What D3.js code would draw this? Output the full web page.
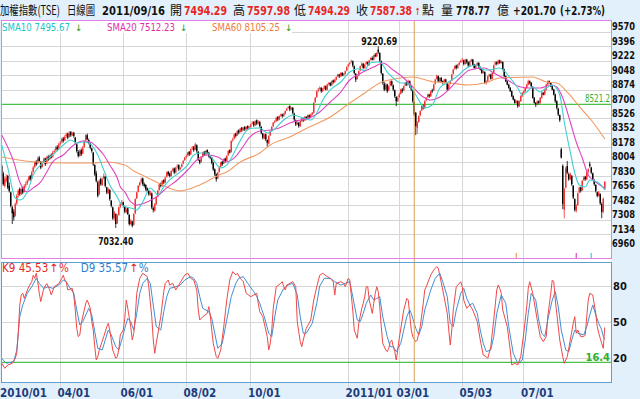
<!DOCTYPE html>
<html>
<head>
<meta charset="utf-8">
<script src="https://cdn.jsdelivr.net/npm/d3@7/dist/d3.min.js"></script>
<style>
  body { margin: 0; background: #e2f0fb; }
  svg { display: block; }
  text { font-family: "Liberation Sans Narrow", "DejaVu Sans Condensed", "Liberation Sans", sans-serif; }
  .cjk { font-family: "Noto Sans CJK TC", "Noto Sans CJK SC", sans-serif; }
  .arrow { font-family: "DejaVu Sans", sans-serif; }
</style>
</head>
<body>
<div id="chart"></div>
<script>
// ---- data : TAIEX daily, 2010/01/26 .. 2011/09/16 (index = trading day) ----
var opens = [7780,7690,7540,7600,7660,7540,7460,7280,7230,7180,7330,7430,7500,7440,7520,7470,7550,7570,7610,7660,
7630,7710,7770,7830,7810,7880,7830,7770,7830,7870,7810,7890,7860,7910,7890,7950,7970,8010,7990,8050,
8070,8110,8090,8140,8170,8130,8190,8150,8180,8120,8040,7950,7900,7970,7930,8010,8090,8150,8090,8050,
7990,7940,7790,7690,7580,7440,7620,7550,7630,7650,7520,7450,7490,7360,7280,7150,7200,7090,7190,7290,
7330,7340,7290,7220,7270,7190,7080,7110,7070,7210,7390,7470,7550,7590,7630,7560,7550,7510,7480,7430,
7450,7270,7240,7320,7410,7490,7570,7540,7610,7580,7650,7710,7690,7660,7730,7750,7700,7770,7790,7740,
7770,7810,7850,7890,7910,7950,7920,7990,8010,7980,8030,7950,7850,7830,7890,7950,7920,7970,7940,7900,
7880,7820,7740,7680,7630,7710,7770,7830,7810,7870,7840,7910,7970,7950,8090,8110,8170,8150,8210,8190,
8240,8210,8250,8220,8260,8230,8250,8290,8310,8270,8330,8290,8310,8250,8170,8110,8160,8090,8050,8150,
8210,8260,8310,8320,8370,8340,8390,8400,8380,8410,8450,8480,8500,8460,8480,8410,8330,8280,8300,8260,
8320,8350,8330,8370,8350,8390,8370,8400,8420,8550,8610,8690,8710,8720,8680,8710,8740,8700,8770,8780,
8750,8810,8790,8820,8860,8880,8860,8900,8870,8890,8930,8980,9010,9030,9040,8980,8890,8830,8870,8930,
8990,9010,8960,9010,9030,9000,9060,9080,9060,9120,9100,9180,9140,9040,8890,8770,8700,8760,8690,8750,
8800,8750,8690,8610,8560,8610,8650,8700,8690,8750,8790,8760,8800,8740,8690,8550,8420,8240,8310,8390,
8450,8500,8480,8570,8610,8640,8620,8690,8690,8770,8830,8860,8800,8840,8800,8780,8820,8780,8700,8770,
8810,8890,8950,8990,8960,9000,9030,9050,9050,9010,9060,9030,8990,9040,9060,9000,8960,8990,9020,8970,
8940,8900,8910,8780,8800,8860,8880,8830,8900,9000,9030,9010,9050,9020,9030,8940,8860,8800,8760,8720,
8680,8620,8580,8540,8560,8500,8560,8620,8660,8680,8720,8760,8800,8780,8730,8600,8540,8520,8560,8540,
8600,8660,8640,8700,8760,8800,8780,8740,8700,8640,8560,8470,8390,7980,7780,7250,7520,7780,7680,7620,
7660,7540,7380,7240,7310,7460,7520,7490,7610,7650,7620,7710,7800,7760,7690,7610,7550,7460,7420,7440,
7320,7230,7494.29];
var highs = [7800,7710,7650,7680,7670,7580,7470,7300,7260,7340,7440,7500,7520,7520,7530,7560,7590,7620,7660,7670,
7720,7780,7840,7850,7890,7900,7840,7840,7880,7880,7900,7910,7920,7930,7960,7980,8020,8030,8060,8080,
8120,8130,8150,8180,8180,8200,8200,8190,8190,8130,8050,7970,7980,7990,8020,8090,8160,8170,8110,8060,
8000,7950,7800,7720,7600,7620,7640,7640,7690,7660,7530,7520,7500,7370,7290,7240,7210,7200,7290,7340,
7370,7350,7300,7280,7280,7200,7140,7120,7210,7390,7470,7550,7590,7640,7640,7580,7560,7520,7490,7480,
7460,7290,7330,7410,7490,7570,7580,7610,7620,7650,7710,7720,7700,7730,7760,7760,7770,7800,7800,7770,
7810,7850,7890,7920,7950,7960,7990,8020,8020,8060,8040,7960,7860,7890,7950,7960,7970,7980,7950,7910,
7890,7830,7750,7690,7710,7780,7830,7840,7870,7880,7910,7970,7980,8090,8120,8170,8180,8210,8220,8240,
8250,8250,8260,8260,8270,8260,8290,8320,8320,8330,8340,8330,8320,8260,8180,8170,8170,8100,8150,8210,
8260,8310,8330,8370,8380,8390,8410,8410,8420,8450,8480,8500,8510,8490,8490,8420,8340,8320,8310,8330,
8360,8360,8380,8380,8400,8400,8410,8430,8550,8610,8690,8720,8740,8730,8720,8750,8750,8770,8790,8790,
8810,8820,8830,8860,8890,8890,8910,8910,8900,8930,8980,9010,9030,9060,9050,8990,8900,8870,8930,8990,
9030,9020,9010,9040,9040,9060,9090,9100,9120,9140,9150,9220.69,9150,9050,8900,8790,8780,8770,8750,8810,
8810,8760,8700,8620,8620,8660,8710,8720,8750,8790,8800,8820,8810,8750,8700,8560,8430,8320,8390,8450,
8510,8520,8570,8610,8650,8650,8690,8710,8770,8830,8880,8870,8850,8850,8810,8830,8830,8790,8770,8810,
8890,8950,8990,9000,9010,9040,9060,9080,9060,9070,9070,9040,9050,9070,9070,9010,9000,9030,9030,8980,
8950,8930,8920,8810,8870,8890,8890,8910,9000,9040,9040,9060,9060,9050,9040,8950,8870,8810,8770,8730,
8690,8630,8590,8570,8570,8570,8630,8670,8690,8730,8770,8820,8810,8790,8740,8610,8550,8570,8570,8610,
8670,8670,8710,8770,8810,8810,8790,8750,8710,8650,8570,8480,8400,8000,7800,7520,7770,7840,7700,7700,
7670,7550,7390,7320,7460,7530,7530,7610,7660,7660,7710,7750,7830,7770,7700,7620,7560,7470,7480,7450,
7340,7400,7597.98];
var lows = [7660,7540,7520,7580,7500,7460,7280,7080,7120,7170,7310,7400,7420,7430,7440,7460,7520,7550,7590,7600,
7620,7700,7750,7780,7800,7830,7740,7760,7810,7780,7800,7840,7850,7870,7880,7930,7950,7960,7980,8030,
8050,8060,8080,8120,8100,8120,8130,8140,8120,8040,7940,7880,7890,7900,7920,8000,8080,8090,8040,7980,
7940,7780,7660,7580,7400,7430,7540,7540,7620,7520,7440,7440,7360,7280,7130,7120,7032.4,7080,7180,7270,
7310,7280,7210,7210,7190,7060,7070,7040,7060,7200,7380,7460,7530,7570,7540,7520,7480,7460,7420,7420,
7260,7220,7230,7310,7400,7480,7520,7530,7560,7570,7640,7660,7640,7650,7710,7680,7690,7750,7720,7730,
7760,7800,7840,7870,7890,7900,7910,7970,7950,7970,7940,7840,7800,7820,7880,7900,7910,7920,7880,7860,
7800,7720,7660,7590,7620,7700,7760,7780,7800,7820,7830,7900,7930,7940,8070,8100,8120,8140,8160,8180,
8190,8200,8200,8210,8210,8220,8240,8280,8250,8260,8270,8280,8240,8160,8100,8100,8080,8010,8040,8140,
8200,8250,8290,8310,8320,8330,8370,8360,8370,8400,8440,8470,8440,8450,8400,8320,8260,8270,8240,8250,
8310,8310,8320,8330,8340,8350,8360,8390,8410,8540,8600,8670,8690,8660,8670,8700,8690,8690,8750,8740,
8740,8770,8780,8810,8850,8840,8850,8860,8860,8880,8920,8970,8990,9020,8970,8880,8790,8820,8860,8920,
8980,8950,8950,9000,8980,8990,9050,9050,9050,9090,9090,9130,9030,8880,8760,8680,8690,8660,8680,8740,
8740,8680,8600,8500,8550,8600,8640,8660,8680,8740,8740,8750,8720,8680,8540,8380,8150,8170,8300,8380,
8440,8460,8470,8560,8600,8600,8610,8660,8680,8760,8820,8790,8790,8790,8760,8770,8780,8680,8690,8760,
8800,8880,8940,8940,8950,8990,9020,9030,8990,9000,9010,8970,8980,9030,8990,8950,8950,8980,8960,8930,
8890,8890,8770,8760,8790,8850,8820,8820,8890,8990,8990,9000,9010,9010,8930,8850,8790,8750,8710,8670,
8610,8570,8530,8530,8480,8490,8550,8610,8650,8670,8710,8750,8760,8730,8590,8530,8490,8510,8520,8530,
8590,8630,8630,8690,8750,8770,8730,8690,8630,8540,8460,8380,8310,7870,7260,7148,7510,7680,7600,7610,
7540,7380,7230,7220,7300,7450,7460,7480,7600,7600,7610,7690,7760,7680,7600,7540,7460,7400,7410,7310,
7150,7210,7494.29];
var closes = [7700,7560,7620,7640,7520,7480,7300,7210,7160,7320,7420,7480,7440,7500,7460,7540,7560,7600,7640,7620,
7700,7760,7820,7800,7870,7840,7760,7820,7860,7800,7880,7860,7900,7880,7940,7960,8000,7980,8040,8060,
8100,8080,8130,8160,8120,8180,8150,8170,8140,8060,7960,7900,7960,7920,8000,8080,8150,8100,8060,8000,
7960,7800,7680,7600,7420,7600,7560,7620,7660,7540,7460,7500,7380,7300,7150,7220,7080,7180,7280,7320,
7340,7300,7230,7260,7200,7080,7120,7060,7200,7380,7460,7540,7580,7620,7560,7540,7500,7480,7440,7460,
7280,7250,7320,7400,7480,7560,7540,7600,7580,7640,7700,7680,7660,7720,7740,7700,7760,7780,7740,7760,
7800,7840,7880,7900,7940,7920,7980,8000,7970,8040,7960,7860,7820,7880,7940,7920,7960,7940,7900,7880,
7820,7740,7680,7620,7700,7760,7820,7800,7860,7840,7900,7960,7940,8080,8100,8160,8140,8200,8180,8230,
8210,8240,8220,8250,8230,8240,8280,8300,8270,8320,8290,8310,8260,8180,8120,8160,8100,8060,8140,8200,
8250,8300,8320,8360,8340,8380,8400,8380,8410,8440,8470,8490,8460,8480,8420,8340,8280,8300,8260,8320,
8350,8330,8370,8350,8390,8370,8400,8420,8540,8600,8680,8700,8720,8680,8710,8740,8700,8760,8780,8750,
8800,8790,8820,8850,8880,8860,8900,8870,8890,8920,8970,9000,9020,9040,8990,8900,8820,8860,8920,8980,
9010,8960,9000,9030,8990,9050,9080,9060,9110,9100,9140,9150,9050,8900,8780,8700,8760,8680,8740,8800,
8760,8700,8620,8560,8600,8640,8700,8680,8740,8780,8760,8800,8740,8700,8560,8400,8260,8300,8380,8440,
8500,8480,8560,8600,8640,8620,8680,8680,8760,8820,8860,8800,8840,8800,8780,8820,8790,8700,8760,8800,
8880,8940,8980,8960,9000,9020,9040,9050,9010,9060,9030,8990,9040,9060,9000,8960,8990,9020,8970,8940,
8900,8920,8780,8800,8860,8880,8830,8900,8990,9030,9010,9050,9020,9040,8940,8860,8800,8760,8720,8680,
8620,8580,8540,8560,8500,8560,8620,8660,8680,8720,8760,8800,8780,8740,8600,8540,8520,8560,8540,8600,
8660,8640,8700,8760,8800,8780,8740,8700,8640,8560,8480,8400,8330,7880,7320,7500,7750,7700,7620,7680,
7560,7400,7250,7300,7450,7520,7480,7600,7640,7620,7700,7740,7780,7700,7620,7560,7480,7420,7460,7330,
7225,7385.68,7587.38];

// moving averages as [trading day, value]
var sma10Pts = [[0,8032],[4,7760],[9,7394],[12,7370],[17,7467],[21,7671],[28,7828],[34,7912],[41,8032],[46,8093],
[50,8056],[54,8068],[58,8056],[64,7912],[68,7731],[72,7551],[77,7406],[79,7334],[82,7290],[86,7274],[90,7250],
[94,7346],[99,7515],[102,7467],[104,7430],[108,7527],[112,7611],[118,7695],[124,7792],[128,7912],[132,7936],
[137,7936],[141,7852],[146,7755],[150,7792],[154,7906],[158,8050],[162,8176],[165,8230],[172,8237],[177,8177],
[181,8213],[188,8333],[194,8394],[201,8357],[206,8333],[210,8418],[214,8574],[219,8695],[226,8791],[232,8911],
[238,8950],[242,8930],[245,9020],[252,9032],[257,8911],[261,8839],[266,8779],[270,8779],[274,8695],[278,8574],
[282,8478],[287,8514],[292,8719],[297,8779],[303,8851],[310,8959],[316,8996],[322,8935],[325,8935],[332,8959],
[339,8839],[344,8719],[347,8634],[350,8670],[354,8731],[359,8670],[363,8719],[367,8755],[372,8634],[375,8309],
[379,7948],[382,7695],[385,7551],[389,7527],[392,7611],[397,7587],[402,7495.67]];
var sma20Pts = [[0,8153],[8,7828],[12,7587],[17,7467],[21,7515],[26,7587],[30,7707],[34,7828],[41,7912],[48,8032],
[54,8081],[59,8068],[64,7996],[68,7912],[72,7792],[77,7635],[79,7530],[82,7467],[86,7346],[90,7310],[97,7346],
[103,7406],[110,7515],[117,7611],[124,7731],[130,7852],[137,7912],[144,7888],[150,7828],[155,7876],[160,7990],
[165,8120],[172,8200],[179,8213],[185,8237],[192,8297],[199,8333],[205,8357],[212,8430],[219,8550],[226,8670],
[232,8815],[239,8893],[248,8971],[254,9020],[261,8935],[268,8839],[274,8731],[281,8610],[286,8574],[292,8610],
[299,8719],[306,8851],[312,8935],[322,8959],[328,8899],[337,8815],[346,8731],[352,8719],[359,8719],[366,8755],
[370,8731],[374,8598],[379,8309],[383,8068],[387,7876],[391,7671],[396,7587],[402,7512.23]];
var sma60Pts = [[0,7888],[21,7831],[43,7816],[61,7816],[70,7828],[82,7792],[88,7720],[96,7650],[106,7560],[119,7479],
[132,7551],[145,7671],[150,7707],[159,7828],[172,7936],[179,8032],[192,8129],[205,8249],[219,8369],[232,8538],
[242,8658],[252,8779],[266,8839],[274,8851],[288,8791],[299,8779],[310,8755],[322,8779],[332,8839],[354,8851],
[363,8791],[370,8779],[377,8670],[387,8454],[394,8309],[398,8210],[402,8105.25]];

// KD(9) as [trading day, value]
var kPts = [[0,15.6],[2,11.4],[4,14.2],[7,15.6],[9,19.7],[10,24],[11,40.6],[12,64],[13,72.5],[14,74],[15,69.7],[18,79.4],
[20,83.6],[21,89],[22,86.4],[23,90.6],[24,83.6],[25,74],[26,67],[28,78],[30,82],[32,76.7],[33,72.5],[35,79.4],[38,82],
[40,86.4],[41,89],[42,85],[43,83.6],[44,76.7],[47,78],[48,72.5],[49,60],[50,44.7],[51,37.8],[52,39],[53,48.9],[56,65.6],
[57,68.3],[59,61.4],[60,50.3],[61,43.3],[62,29.4],[63,18.3],[64,21],[65,26.7],[68,37.8],[70,46],[71,48.9],[72,43.3],
[73,35],[74,26.7],[76,19.7],[77,21],[78,26.7],[79,39.2],[81,43.3],[82,53],[83,68.3],[84,61.4],[86,46],[87,35],[88,40.6],
[89,54.4],[90,73.9],[92,86.4],[94,90.6],[97,87.8],[98,79.4],[100,54.4],[101,35],[102,23.9],[103,32.2],[106,54.4],
[108,75.3],[109,82.2],[111,85],[112,80.8],[114,82.2],[116,76.7],[118,80.8],[120,85],[122,89.2],[124,90.6],[126,86.4],
[128,85],[130,76.7],[131,60],[132,51.7],[134,54.4],[137,57.2],[138,62.8],[139,55.8],[140,43.3],[141,32.2],[143,21.1],
[144,19.7],[146,26.7],[148,46.1],[150,68.3],[152,85],[154,92],[156,89.2],[157,90.6],[159,86.4],[161,83.6],[163,73.9],
[166,71.1],[168,72.5],[170,73.9],[171,65.6],[172,58.6],[174,54.4],[177,37.8],[178,26.7],[179,32.2],[180,43.3],
[181,61.4],[183,79.4],[186,82.2],[187,83.6],[188,79.4],[189,76.7],[190,80.8],[192,82.2],[194,83.6],[196,79.4],
[197,50.3],[198,41.9],[199,33.6],[200,29.4],[201,35],[203,44.7],[206,51.7],[208,68.3],[210,79.4],[212,89],[214,90.6],
[217,87.8],[219,86.4],[221,83.6],[222,72.5],[223,82.2],[226,83.6],[228,82.2],[229,79.4],[231,86.4],[232,85],[234,60],
[235,43.3],[237,36.4],[238,48.9],[240,61.4],[241,65.6],[242,71.1],[243,79.4],[244,79.4],[245,68.3],[247,57.2],
[248,65.6],[249,73.9],[250,79.4],[251,75.3],[252,62.8],[253,46.1],[254,32.2],[256,26.7],[257,25.3],[258,28.1],
[259,33.6],[260,35],[261,29.4],[262,25.3],[263,18.3],[264,26.7],[265,36.4],[268,60],[270,69.7],[271,68.3],[272,55.8],
[273,43.3],[274,37.8],[276,33.6],[277,35],[279,46.1],[281,65.6],[282,76.7],[283,79.4],[286,89.2],[288,93.3],[290,96.1],
[291,94.7],[292,89.2],[294,76.7],[297,57.2],[298,43.3],[299,30.8],[300,43.3],[301,60],[303,79.4],[306,83.6],[307,79.4],
[308,68.3],[310,61.4],[311,62.8],[312,64.2],[314,60],[317,50.3],[319,35],[321,22.5],[323,21.1],[324,19.7],[326,29.4],
[328,51.7],[330,76.7],[331,80.8],[332,78],[333,73.9],[334,60],[337,46.1],[339,26.7],[340,14.2],[342,15.6],[344,14.2],
[346,21.1],[348,40.6],[350,62.8],[351,78],[352,83.6],[354,73.9],[357,51.7],[359,37.8],[361,33.6],[363,37.8],[364,54.4],
[366,73.9],[367,85],[368,83.6],[369,68.3],[370,57.2],[372,35],[374,21.1],[375,15.6],[377,21.1],[379,35],[381,48.9],
[382,54.4],[383,40.6],[384,43.3],[386,37.8],[388,37.8],[389,39.2],[390,54.4],[391,68.3],[392,73.9],[394,72.5],
[396,57.2],[397,46.1],[398,40.6],[399,36.4],[400,32],[401,28.1],[402,45.53]];
var dPts = [[0,19.7],[3,15.6],[8,17],[10,26.7],[12,54.4],[14,64.2],[17,73.9],[20,79.4],[23,86.4],[25,82.2],[28,78],
[31,79.4],[34,78],[38,80.8],[41,85],[43,83.6],[45,79.4],[48,73.9],[50,60],[52,47.5],[54,50.3],[58,61.4],[60,55.8],
[62,42],[64,28.1],[67,26.7],[69,35],[71,43.3],[73,39.2],[76,29.4],[78,26.7],[80,35],[82,44.7],[84,53],[86,50.3],
[88,43.3],[90,57.2],[92,73.9],[94,82.2],[97,86.4],[99,82.2],[101,64.2],[103,46.1],[106,43.3],[108,58.6],[110,71.1],
[112,78],[116,79.4],[119,80.8],[122,85],[126,87.8],[128,86.4],[130,82.2],[132,71.1],[134,61.4],[138,58.6],[140,53],
[142,40.6],[144,28.1],[147,32.2],[150,51.7],[153,71.1],[156,82.2],[158,86.4],[161,87.8],[164,82.2],[168,75.3],
[170,71.1],[172,65.6],[175,54.4],[178,40.6],[180,37.8],[182,54.4],[184,68.3],[188,78],[191,80.8],[194,82.2],
[197,72.5],[199,54.4],[201,40.6],[203,40.6],[207,48.9],[210,65.6],[212,80],[215,86.4],[219,86.4],[222,83.6],
[226,80.8],[229,82.2],[232,83.6],[234,71.1],[237,51.7],[239,50.3],[241,57.2],[243,65.6],[246,72.5],[248,68.3],
[250,69.7],[252,71.1],[254,54.4],[257,37.8],[259,29.4],[261,29.4],[263,25.3],[266,32.2],[268,43.3],[270,54.4],
[272,60],[273,57.2],[276,44.7],[278,39.2],[280,46.1],[282,60],[286,76.7],[289,86.4],[292,90.6],[294,83.6],[297,71.1],
[299,48.9],[301,46.1],[303,60],[306,73.9],[308,78],[310,69.7],[312,64.2],[314,65.6],[317,57.2],[319,43.3],[321,32.2],
[323,25.3],[326,26.7],[328,37.8],[330,57.2],[333,72.5],[336,65.6],[338,46.1],[341,23.9],[344,15.6],[347,18.3],
[349,35],[351,57.2],[353,73.9],[356,68.3],[358,51.7],[360,40.6],[362,37.8],[364,51.7],[367,68.3],[369,75.3],
[371,62.8],[373,43.3],[376,26.7],[378,25.3],[380,35],[382,43.3],[384,40.6],[388,39.2],[390,46.1],[392,55.8],
[394,64.2],[396,55.8],[398,48.9],[400,43.3],[401,38],[402,35.57]];

var priceTicks = [9570,9396,9222,9048,8874,8700,8526,8352,8178,8004,7830,7656,7482,7308,7134,6960];
var kdTicks = [80, 50, 20];
var monthIdx = [0, 39, 81, 123, 166, 231, 265, 307, 348];
var monthLabels = ['2010/01','04/01','06/01','08/02','10/01','2011/01','03/01','05/03','07/01'];
var refPrice = 8521.2, refKD = 16.4;
var cursorIdx = 275;
var peakIdx = 251, peakLabel = '9220.69';
var lowIdx = 76, lowLabel = '7032.40';

// ---- layout ----
var W = 640, H = 399;
var plotL = 1, plotR = 611;
var mainT = 20, mainB = 258, kdT = 262, kdB = 382;
var N = closes.length;

var svg = d3.select('#chart').append('svg')
  .attr('width', W).attr('height', H);

svg.append('rect').attr('width', W).attr('height', H).attr('fill', '#e2f0fb');
svg.append('rect').attr('x', plotL).attr('y', mainT)
  .attr('width', plotR - plotL).attr('height', kdB - mainT).attr('fill', '#fff');

var x = d3.scaleBand().domain(d3.range(407)).range([plotL, plotL + 407 * 1.5]);
var cx = function(i){ return x(i) + x.bandwidth() / 2; };
var y = d3.scaleLinear().domain([6960, 8526]).range([234, 104]);
var yk = d3.scaleLinear().domain([0, 100]).range([kdB, kdT]);

var grid = svg.append('g').attr('stroke', '#d6d6d6').attr('stroke-width', 1);
grid.selectAll('.hp').data(priceTicks.filter(function(d){ return y(d) > mainT && y(d) < mainB; }))
  .enter().append('line')
  .attr('x1', plotL).attr('x2', plotR)
  .attr('y1', function(d){ return Math.round(y(d)) + 0.5; })
  .attr('y2', function(d){ return Math.round(y(d)) + 0.5; });
grid.selectAll('.hk').data(kdTicks).enter().append('line')
  .attr('x1', plotL).attr('x2', plotR)
  .attr('y1', function(d){ return Math.round(yk(d)) + 0.5; })
  .attr('y2', function(d){ return Math.round(yk(d)) + 0.5; });
grid.selectAll('.vm').data(monthIdx.slice(1)).enter().append('line')
  .attr('x1', function(d){ return Math.round(x(d)) + 0.5; })
  .attr('x2', function(d){ return Math.round(x(d)) + 0.5; })
  .attr('y1', mainT).attr('y2', kdB + 5);

// reference lines
svg.append('line').attr('x1', plotL).attr('x2', plotR)
  .attr('y1', y(refPrice)).attr('y2', y(refPrice))
  .attr('stroke', '#4cc04c').attr('stroke-width', 1.3);
svg.append('line').attr('x1', plotL).attr('x2', plotR)
  .attr('y1', yk(refKD)).attr('y2', yk(refKD))
  .attr('stroke', '#4cc04c').attr('stroke-width', 1.3);

// candles
var up = '#f03030', down = '#000';
var candles = svg.append('g').selectAll('g').data(closes).enter().append('g')
  .attr('fill', function(d, i){ return d >= opens[i] ? up : down; })
  .attr('stroke', function(d, i){ return d >= opens[i] ? up : down; });
candles.append('line')
  .attr('x1', function(d, i){ return cx(i); }).attr('x2', function(d, i){ return cx(i); })
  .attr('y1', function(d, i){ return y(highs[i]); }).attr('y2', function(d, i){ return y(lows[i]); })
  .attr('stroke-width', 0.8);
candles.append('rect')
  .attr('stroke', 'none')
  .attr('x', function(d, i){ return cx(i) - 0.7; }).attr('width', 1.4)
  .attr('y', function(d, i){ return y(Math.max(d, opens[i])); })
  .attr('height', function(d, i){ return Math.max(0.8, Math.abs(y(d) - y(opens[i]))); });

// moving averages
var maLine = d3.line().x(function(d){ return cx(d[0]); }).y(function(d){ return y(d[1]); })
  .curve(d3.curveMonotoneX);
[[sma60Pts, '#f39a62'], [sma20Pts, '#df44c0'], [sma10Pts, '#3ed0d0']].forEach(function(s){
  svg.append('path').attr('d', maLine(s[0])).attr('fill', 'none')
    .attr('stroke', s[1]).attr('stroke-width', 1.1);
});

// KD lines
var kdLine = d3.line().x(function(d){ return cx(d[0]); }).y(function(d){ return yk(d[1]); });
svg.append('path').attr('d', kdLine(dPts)).attr('fill', 'none').attr('stroke', '#3f8fd6').attr('stroke-width', 1);
svg.append('path').attr('d', kdLine(kPts)).attr('fill', 'none').attr('stroke', '#f04848').attr('stroke-width', 1);

// cursor
svg.append('line').attr('x1', cx(cursorIdx)).attr('x2', cx(cursorIdx))
  .attr('y1', mainT).attr('y2', kdB).attr('stroke', '#d9a05a').attr('stroke-width', 1);

// period start marks (60 / 20 / 10 days back)
[[60, '#f39a62'], [20, '#df44c0'], [10, '#3ed0d0']].forEach(function(p){
  svg.append('line').attr('x1', cx(N - p[0])).attr('x2', cx(N - p[0]))
    .attr('y1', mainB - 5).attr('y2', mainB).attr('stroke', p[1]).attr('stroke-width', 1.2);
});

// frames
svg.append('rect').attr('x', plotL + 0.5).attr('y', mainT + 0.5)
  .attr('width', plotR - plotL).attr('height', mainB - mainT)
  .attr('fill', 'none').attr('stroke', '#e37fe6');
svg.append('rect').attr('x', plotL + 0.5).attr('y', kdT + 0.5)
  .attr('width', plotR - plotL).attr('height', kdB - kdT)
  .attr('fill', 'none').attr('stroke', '#5f9fd2');

// axis labels (price labels hang just below their grid line)
svg.selectAll('.pl').data(priceTicks).enter().append('text')
  .attr('x', 612).attr('y', function(d){ return y(d) + 13; })
  .attr('font-size', 11).attr('font-weight', 'bold').attr('fill', '#111')
  .attr('textLength', 23).attr('lengthAdjust', 'spacingAndGlyphs')
  .text(function(d){ return d; });
svg.selectAll('.kl').data(kdTicks).enter().append('text')
  .attr('x', 613).attr('y', function(d){ return yk(d) + 4; })
  .attr('font-size', 11).attr('font-weight', 'bold').attr('fill', '#111')
  .text(function(d){ return d; });
svg.selectAll('.ml').data(monthIdx).enter().append('text')
  .attr('x', function(d){ return Math.max(0, x(d) - 2); }).attr('y', 397)
  .attr('font-size', 11.5).attr('font-weight', 'bold').attr('fill', '#1d3b7a')
  .text(function(d, i){ return monthLabels[i]; });

// in-plot labels
svg.append('text').attr('x', 610).attr('y', y(refPrice) - 2).attr('text-anchor', 'end')
  .attr('font-size', 10).attr('fill', '#30b030')
  .attr('textLength', 25).attr('lengthAdjust', 'spacingAndGlyphs').text(refPrice.toFixed(1));
svg.append('text').attr('x', 610).attr('y', yk(refKD) - 1).attr('text-anchor', 'end')
  .attr('font-size', 11).attr('font-weight', 'bold').attr('fill', '#30b030').text(refKD);
svg.append('text').attr('x', cx(peakIdx) + 1).attr('y', y(highs[peakIdx]) - 1).attr('text-anchor', 'middle')
  .attr('font-size', 11).attr('font-weight', 'bold').attr('fill', '#111')
  .attr('textLength', 36).attr('lengthAdjust', 'spacingAndGlyphs').text(peakLabel);
svg.append('text').attr('x', cx(lowIdx)).attr('y', y(lows[lowIdx]) + 17).attr('text-anchor', 'middle')
  .attr('font-size', 11).attr('font-weight', 'bold').attr('fill', '#111')
  .attr('textLength', 35).attr('lengthAdjust', 'spacingAndGlyphs').text(lowLabel);

// legends: moving average values with a green "falling" arrow
svg.append('rect').attr('x', plotL + 1).attr('y', mainT + 1).attr('width', 290).attr('height', 12).attr('fill', '#fff');
[['SMA10 7495.67', 2, '#22c4c4'], ['SMA20 7512.23', 107, '#e02fa6'], ['SMA60 8105.25', 212, '#f07c3a']]
  .forEach(function(t){
    svg.append('text').attr('x', t[1]).attr('y', 31).attr('font-size', 10.5).attr('fill', t[2])
      .attr('textLength', 68).attr('lengthAdjust', 'spacingAndGlyphs').text(t[0]);
    svg.append('text').attr('class', 'arrow').attr('x', t[1] + 73).attr('y', 31)
      .attr('font-size', 9).attr('fill', '#1a9a1a').text('↓');
  });
var kdLegend = svg.append('text').attr('y', 272).attr('font-size', 11.5);
[['K9 45.53', '#e8261e', 2, ''], ['↑', '#e8261e', 1, 'arrow'], ['%', '#e8261e', 0, ''],
 ['D9 35.57', '#2f7fcf', 12, ''], ['↑', '#e8261e', 1, 'arrow'], ['%', '#2f7fcf', 0, '']].forEach(function(t){
  kdLegend.append('tspan').attr('class', t[3] || null).attr('dx', t[2]).attr('fill', t[1]).text(t[0]);
});

// header
var header = [
  ['加權指數(TSE)', 0, 60, '#111', 'normal', 'cjk'],
  ['日線圖', 67, 28, '#111', 'normal', 'cjk'],
  ['2011/09/16', 102, 63, '#111', 'bold', ''],
  ['開', 170, 12, '#111', 'normal', 'cjk'],
  ['7494.29', 184, 43, '#e8261e', 'bold', ''],
  ['高', 233, 12, '#111', 'normal', 'cjk'],
  ['7597.98', 247, 43, '#e8261e', 'bold', ''],
  ['低', 294, 12, '#111', 'normal', 'cjk'],
  ['7494.29', 308, 42, '#e8261e', 'bold', ''],
  ['收', 356, 12, '#111', 'normal', 'cjk'],
  ['7587.38', 370, 42, '#e8261e', 'bold', ''],
  ['↑', 415, 5, '#e8261e', 'bold', 'arrow'],
  ['點', 422, 12, '#111', 'normal', 'cjk'],
  ['量', 441, 12, '#111', 'normal', 'cjk'],
  ['778.77', 456, 34, '#111', 'bold', ''],
  ['億', 497, 12, '#111', 'normal', 'cjk'],
  ['+201.70', 513, 43, '#111', 'bold', ''],
  ['(+2.73%)', 560, 45, '#111', 'bold', '']
];
header.forEach(function(h){
  svg.append('text').attr('class', h[5] || null)
    .attr('x', h[1]).attr('y', 15)
    .attr('font-size', h[5] === 'cjk' ? 12.5 : (h[5] === 'arrow' ? 10 : 12.5))
    .attr('font-weight', h[4]).attr('fill', h[3])
    .attr('textLength', h[2]).attr('lengthAdjust', 'spacingAndGlyphs')
    .text(h[0]);
});
</script>
</body>
</html>
